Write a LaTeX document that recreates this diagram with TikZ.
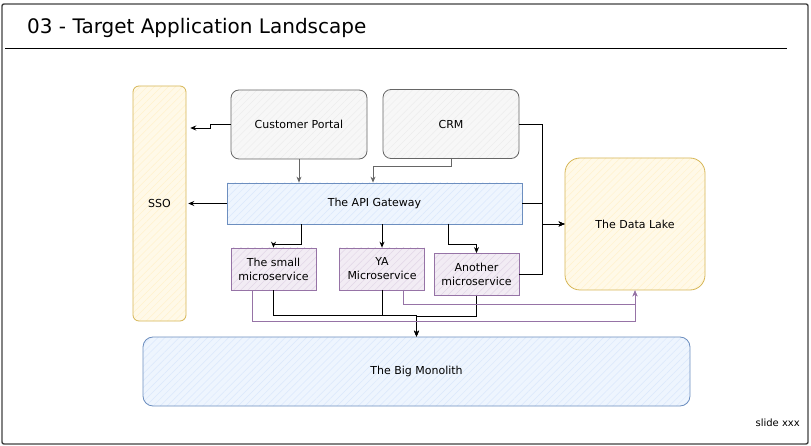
\documentclass[tikz,border=0pt]{standalone}
\usepackage{fontspec}
\setmainfont{DejaVu Sans}
\usepackage{xcolor}
\usetikzlibrary{arrows.meta, patterns.meta, positioning}

\definecolor{yline}{HTML}{D6B656}
\definecolor{yfill}{HTML}{FFF2CC}
\definecolor{bline}{HTML}{6C8EBF}
\definecolor{bfill}{HTML}{DAE8FC}
\definecolor{pline}{HTML}{9673A6}
\definecolor{pfill}{HTML}{E1D5E7}
\definecolor{gline}{HTML}{666666}
\definecolor{gfill}{HTML}{EDEDED}

\begin{document}
\begin{tikzpicture}[x=1pt, y=-1pt, >={Stealth[length=6pt, width=5pt]},
    every node/.style={font=\fontsize{11}{14}\selectfont, align=center, inner sep=0pt},
    hatch/.style 2 args={draw=#1, line width=0.8pt,
        preaction={fill=#2!45}, pattern={Lines[angle=45, distance=5pt, line width=0.5pt]}, pattern color=#2},
    graybox/.style={hatch={gline}{gfill}, rounded corners=8pt, minimum width=136pt, minimum height=69pt},
    msbox/.style={hatch={pline}{pfill}, minimum width=85pt, minimum height=42pt},
    link/.style={->, line width=0.8pt},
    glink/.style={->, line width=0.8pt, draw=gline},
    plink/.style={->, line width=1pt, draw=pline}]

    \useasboundingbox (0,0) rectangle (811,446);
    \draw[line width=1.4pt, black!75, rounded corners=2pt] (2,4) rectangle (808,444);

    \node[anchor=west, font=\fontsize{20}{24}\selectfont] (title) at (27,28) {03 - Target Application Landscape};
    \draw[line width=0.8pt] (5,48) -- (787,48);

    \node[hatch={yline}{yfill}, rounded corners=6pt, minimum width=53pt, minimum height=235pt] (sso) at (159.5,203.5) {SSO};
    \node[graybox] (cp) at (299,124.5) {Customer Portal};
    \node[graybox] (crm) at (451,124) {CRM};
    \node[hatch={bline}{bfill}, minimum width=295pt, minimum height=41pt] (api) at (374.5,203.5) {The API Gateway};
    \node[hatch={yline}{yfill}, rounded corners=15pt, minimum width=140pt, minimum height=132pt] (lake) at (635,224) {The Data Lake};
    \node[msbox] (ms1) at (273.5,269) {The small\\microservice};
    \node[msbox] (ms2) at (382,269) {YA\\Microservice};
    \node[msbox] (ms3) at (476.5,274.5) {Another\\microservice};
    \node[hatch={bline}{bfill}, rounded corners=10pt, minimum width=547pt, minimum height=69pt] (mono) at (416.5,371.5) {The Big Monolith};

    \node[anchor=east, font=\fontsize{10}{12}\selectfont] (slide) at (800,423) {slide xxx};

    % portal and crm
    \draw[link, shorten >=4pt] (cp.west) -- ++(-20,0) |- (sso.east |- 0,128);
    \draw[glink] (cp.south) -- (cp.south |- api.north);
    \draw[glink] (crm.south) -- ++(0,8) -| ([xshift=-1.5pt]api.north);
    \draw[link] (crm.east) -- ++(23,0) |- (lake.west);

    % gateway
    \draw[link, shorten >=2pt] (api.west) -- (sso.east);
    \draw[link] (api.east) -- ++(20,0) |- (lake.west);
    \draw[link] (api.south -| 301,0) -- ++(0,20) -| (ms1.north);
    \draw[link] (api.south -| ms2.north) -- (ms2.north);
    \draw[link] (api.south -| 448,0) -- ++(0,20) -| (ms3.north);

    % microservices
    \draw[link] (ms3.east) -- ++(23,0) |- (lake.west);
    \draw[link] (ms1.south) -- ++(0,25) -| (mono.north);
    \draw[link] (ms2.south) -- ++(0,25) -| (mono.north);
    \draw[link] (ms3.south) -- ++(0,20) -| (mono.north);
    \draw[plink] ([xshift=21.5pt]ms1.south west) -- ++(0,31.5) -| (lake.south);
    \draw[plink] ([xshift=-21.5pt]ms2.south east) -- ++(0,14.5) -| (lake.south);
\end{tikzpicture}
\end{document}
